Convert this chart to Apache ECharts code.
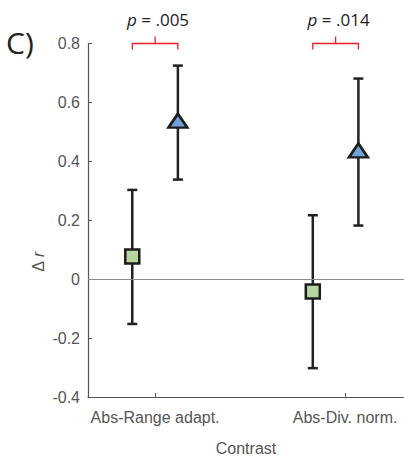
<!DOCTYPE html>
<html>
<head>
<meta charset="utf-8">
<script src="https://cdn.jsdelivr.net/npm/echarts@6/dist/echarts.min.js"></script>
<style>
  html, body { margin: 0; padding: 0; background: #fff; }
  #chart { width: 404px; height: 461px; }
</style>
</head>
<body>
<div id="chart"></div>
<script>
// ========== Δr 对比图 ==========
const categories = ['Abs-Range adapt.', 'Abs-Div. norm.'];
const categoryTicks = [1, 2];
const yTicks = [-0.4, -0.2, 0, 0.2, 0.4, 0.6, 0.8];

// x 位置（组中心 ± 偏移）
const squareX   = [0.88, 1.83];
const triangleX = [1.12, 2.07];

// 均值与误差范围
const squareMean = [0.077, -0.042];
const squareLo   = [-0.152, -0.302];
const squareHi   = [0.303, 0.217];
const triMean    = [0.538, 0.437];
const triLo      = [0.338, 0.182];
const triHi      = [0.725, 0.681];

// 显著性括号
const bracketLeft  = [0.88, 1.83];
const bracketRight = [1.12, 2.07];
const bracketY     = [0.80, 0.80];
const pLabels      = ['.005', '.014'];

const AXIS = '#555';
const FONT = 'Liberation Sans, Arial, sans-serif';

const chart = echarts.init(document.getElementById('chart'), null, { renderer: 'svg' });

const errData = [];
for (let i = 0; i < squareX.length; i++) errData.push([squareX[i], squareLo[i], squareHi[i]]);
for (let i = 0; i < triangleX.length; i++) errData.push([triangleX[i], triLo[i], triHi[i]]);

const bracketData = bracketLeft.map((l, i) => [l, bracketRight[i], bracketY[i], i]);

chart.setOption({
    backgroundColor: '#fff',
    animation: false,
    grid: { left: 88, right: 0, top: 43.5, bottom: 57.5 },
    xAxis: {
        type: 'value', min: 0.647, max: 2.31,
        name: 'Contrast', nameLocation: 'middle', nameGap: 43,
        nameTextStyle: { color: AXIS, fontSize: 16, fontFamily: FONT },
        axisLine: { show: true, onZero: false, lineStyle: { color: AXIS, width: 1.2 } },
        axisTick: { show: true, inside: true, length: 4, customValues: categoryTicks, lineStyle: { color: AXIS } },
        axisLabel: { customValues: categoryTicks, margin: 12, color: AXIS, fontSize: 16, fontFamily: FONT,
                     formatter: v => categories[Math.round(v) - 1] || '' },
        splitLine: { show: false }
    },
    yAxis: {
        type: 'value', min: -0.4, max: 0.8, interval: 0.2,
        axisLine: { show: true, lineStyle: { color: AXIS, width: 1.2 } },
        axisTick: { show: true, inside: true, length: 4, lineStyle: { color: AXIS } },
        axisLabel: { margin: 8, color: AXIS, fontSize: 16, fontFamily: FONT,
                     formatter: v => {
                         const t = yTicks.find(k => Math.abs(k - v) < 1e-6);
                         return t === 0 ? '0' : (t !== undefined ? t.toFixed(1) : '');
                     } },
        splitLine: { show: false }
    },
    graphic: [
        { type: 'text', left: 6, top: 27,
          style: { text: 'C)', fill: '#222', font: '30px "Open Sans", sans-serif' } },
        { type: 'text', x: 38, y: 262, rotation: Math.PI / 2,
          style: { text: '{n|Δ }{i|r}', align: 'center', verticalAlign: 'middle',
                   rich: { n: { fill: AXIS, fontSize: 16, fontFamily: FONT },
                           i: { fill: AXIS, fontSize: 16, fontFamily: FONT, fontStyle: 'italic' } } } }
    ],
    series: [
        {
            type: 'custom', name: 'err', data: errData, z: 2, silent: true,
            renderItem: (params, api) => {
                const x = api.value(0);
                const lo = api.coord([x, api.value(1)]);
                const hi = api.coord([x, api.value(2)]);
                const cap = 5;
                const st = { stroke: '#222', lineWidth: 2.5 };
                return { type: 'group', children: [
                    { type: 'line', shape: { x1: lo[0], y1: lo[1], x2: hi[0], y2: hi[1] }, style: st },
                    { type: 'line', shape: { x1: lo[0] - cap, y1: lo[1], x2: lo[0] + cap, y2: lo[1] }, style: st },
                    { type: 'line', shape: { x1: hi[0] - cap, y1: hi[1], x2: hi[0] + cap, y2: hi[1] }, style: st }
                ] };
            }
        },
        {
            type: 'custom', name: 'bracket', data: bracketData, z: 3, silent: true, clip: false,
            renderItem: (params, api) => {
                const l = api.coord([api.value(0), api.value(2)]);
                const r = api.coord([api.value(1), api.value(2)]);
                const mx = (l[0] + r[0]) / 2;
                const st = { stroke: '#ee1c25', lineWidth: 1.3, fill: null };
                const idx = api.value(3);
                return { type: 'group', children: [
                    { type: 'polyline', shape: { points: [[l[0], l[1] + 6], [l[0], l[1]], [r[0], r[1]], [r[0], r[1] + 6]] }, style: st },
                    { type: 'line', shape: { x1: mx, y1: l[1], x2: mx, y2: l[1] - 7 }, style: st },
                    { type: 'text', x: mx + 3, y: l[1] - 24,
                      style: { text: '{i|p} = ' + pLabels[idx], align: 'center', verticalAlign: 'middle',
                               rich: { i: { fontStyle: 'italic', fontSize: 17, fontFamily: '"Open Sans", sans-serif', fill: '#222' } },
                               fontSize: 17, fontFamily: '"Open Sans", sans-serif', fill: '#222' } }
                ] };
            }
        },
        {
            type: 'scatter', name: 'square', z: 5,
            data: squareX.map((x, i) => [x, squareMean[i]]),
            symbol: 'rect', symbolSize: 14,
            itemStyle: { color: '#b5d69e', borderColor: '#1c1c1c', borderWidth: 2.5, opacity: 1 },
            markLine: {
                silent: true, symbol: 'none', label: { show: false }, animation: false,
                lineStyle: { color: '#8a8a8a', width: 1, type: 'solid' },
                data: [{ yAxis: 0 }]
            }
        },
        {
            type: 'scatter', name: 'triangle', z: 5,
            data: triangleX.map((x, i) => [x, triMean[i]]),
            symbol: 'triangle', symbolSize: [19, 14],
            itemStyle: { color: '#6fa3d8', borderColor: '#1c1c1c', borderWidth: 2.5, opacity: 1 }
        }
    ]
});
</script>
</body>
</html>
